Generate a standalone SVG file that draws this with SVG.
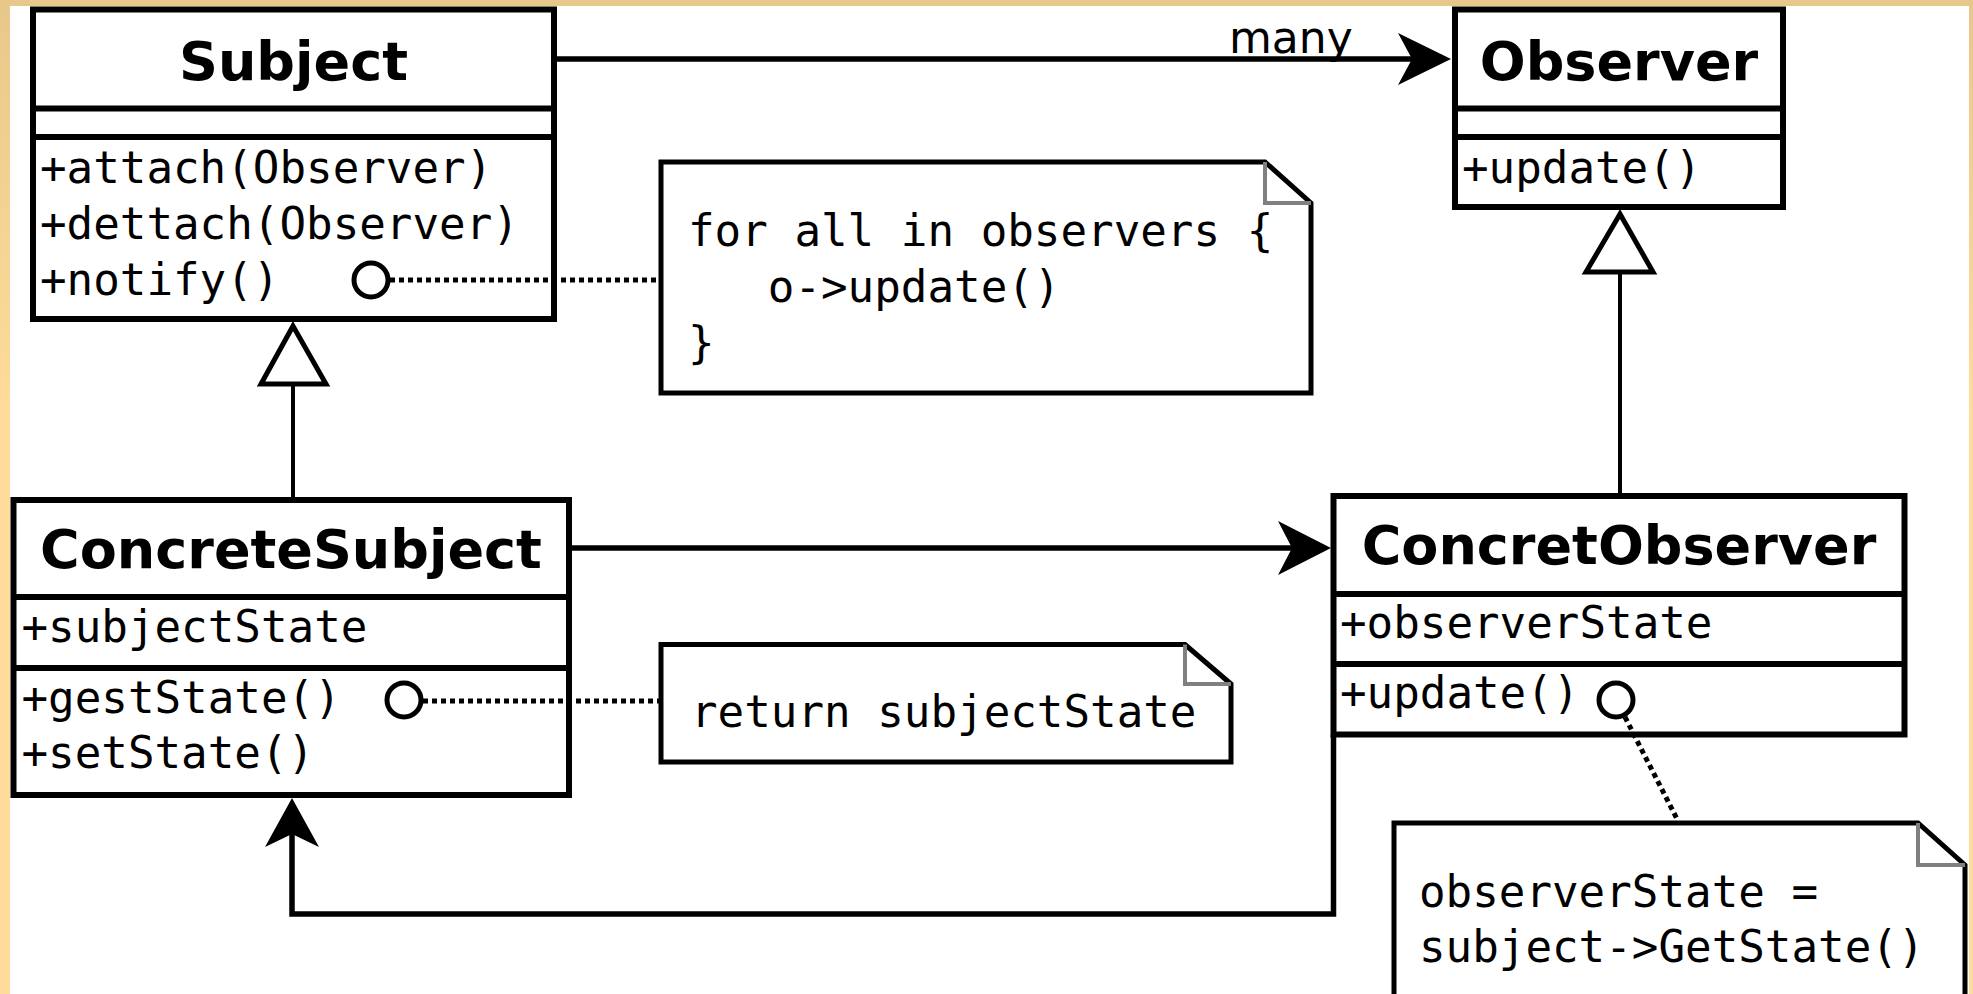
<svg xmlns="http://www.w3.org/2000/svg" width="1973" height="994" viewBox="0 0 1973 994">
  <defs>
    <linearGradient id="frame" gradientUnits="userSpaceOnUse" x1="0" y1="0" x2="0" y2="420">
      <stop offset="0" stop-color="#E8C88A"/>
      <stop offset="1" stop-color="#FFDC9C"/>
    </linearGradient>
  </defs>
  <style>
    .box { fill: #ffffff; stroke: #000000; stroke-width: 6; }
    .div { stroke: #000000; stroke-width: 6; fill: none; }
    .title { font-family: "DejaVu Sans", "Liberation Sans", sans-serif; font-weight: bold; font-size: 54px; text-anchor: middle; fill: #000000; }
    .mono { font-family: "DejaVu Sans Mono", "Liberation Mono", monospace; font-size: 44.2px; fill: #000000; white-space: pre; }
    .label { font-family: "DejaVu Sans", "Liberation Sans", sans-serif; font-size: 44px; fill: #000000; }
    .note { fill: #ffffff; stroke: #000000; stroke-width: 5; stroke-linejoin: miter; }
    .fold { fill: none; stroke: #808080; stroke-width: 4; }
    .line { fill: none; stroke: #000000; stroke-width: 5.5; }
    .thin { fill: none; stroke: #000000; stroke-width: 4; }
    .dots { fill: none; stroke: #000000; stroke-width: 5; stroke-dasharray: 5 4; }
    .head { fill: #000000; stroke: none; }
    .tri { fill: #ffffff; stroke: #000000; stroke-width: 5; stroke-linejoin: miter; }
    .knob { fill: #ffffff; stroke: #000000; stroke-width: 5; }
  </style>

  <!-- frame and canvas -->
  <rect x="0" y="0" width="1973" height="994" fill="url(#frame)"/>
  <rect x="10" y="6" width="1959" height="988" fill="#ffffff"/>

  <!-- Subject -->
  <g id="subject">
    <rect class="box" x="33" y="9.5" width="521" height="309.5"/>
    <line class="div" x1="33" y1="108.5" x2="554" y2="108.5"/>
    <line class="div" x1="33" y1="137" x2="554" y2="137"/>
    <text class="title" x="293.5" y="80">Subject</text>
    <text class="mono" x="40" y="183">+attach(Observer)</text>
    <text class="mono" x="40" y="239">+dettach(Observer)</text>
    <text class="mono" x="40" y="295">+notify()</text>
  </g>

  <!-- Observer -->
  <g id="observer">
    <rect class="box" x="1455" y="9.5" width="328" height="197.5"/>
    <line class="div" x1="1455" y1="108.5" x2="1783" y2="108.5"/>
    <line class="div" x1="1455" y1="137" x2="1783" y2="137"/>
    <text class="title" x="1619" y="80">Observer</text>
    <text class="mono" x="1462" y="183">+update()</text>
  </g>

  <!-- ConcreteSubject -->
  <g id="concrete-subject">
    <rect class="box" x="13.5" y="500" width="555.5" height="295"/>
    <line class="div" x1="13.5" y1="597" x2="569" y2="597"/>
    <line class="div" x1="13.5" y1="668" x2="569" y2="668"/>
    <text class="title" x="291" y="568">ConcreteSubject</text>
    <text class="mono" x="21.5" y="642">+subjectState</text>
    <text class="mono" x="21.5" y="713">+gestState()</text>
    <text class="mono" x="21.5" y="768">+setState()</text>
  </g>

  <!-- ConcretObserver -->
  <g id="concret-observer">
    <rect class="box" x="1333.5" y="496" width="571" height="238.5"/>
    <line class="div" x1="1333.5" y1="594" x2="1904.5" y2="594"/>
    <line class="div" x1="1333.5" y1="664" x2="1904.5" y2="664"/>
    <text class="title" x="1619" y="564">ConcretObserver</text>
    <text class="mono" x="1340" y="638">+observerState</text>
    <text class="mono" x="1340" y="708">+update()</text>
  </g>

  <!-- note: notify body -->
  <g id="note-notify">
    <path class="note" d="M661,162 H1265 L1311,203 V393 H661 Z"/>
    <path class="fold" d="M1265,162 V203 H1311"/>
    <text class="mono" x="688" y="246">for all in observers {</text>
    <text class="mono" x="688" y="302">   o-&gt;update()</text>
    <text class="mono" x="688" y="358">}</text>
  </g>

  <!-- note: getState body -->
  <g id="note-getstate">
    <path class="note" d="M661,644.5 H1185 L1231,684 V762 H661 Z"/>
    <path class="fold" d="M1185,644.5 V684 H1231"/>
    <text class="mono" x="691" y="727">return subjectState</text>
  </g>

  <!-- note: update body -->
  <g id="note-update">
    <path class="note" d="M1394,823 H1918 L1965,865 V1005 H1394 Z"/>
    <path class="fold" d="M1918,823 V865 H1965"/>
    <text class="mono" x="1419" y="907">observerState =</text>
    <text class="mono" x="1419" y="962">subject-&gt;GetState()</text>
  </g>

  <!-- connectors, drawn over the boxes -->
  <g id="connectors">
    <!-- Subject -> Observer (many) -->
    <line class="line" x1="557" y1="59" x2="1412" y2="59"/>
    <polygon class="head" points="1451,59 1398,33 1412,59 1398,85"/>
    <text class="label" x="1229" y="53">many</text>

    <!-- ConcreteSubject -> ConcretObserver -->
    <line class="line" x1="572" y1="548" x2="1292" y2="548"/>
    <polygon class="head" points="1331,548 1278,521 1292,548 1278,575"/>

    <!-- ConcretObserver -> ConcreteSubject -->
    <path class="line" d="M1333.5,735 V914 H292 V834"/>
    <polygon class="head" points="292,798 319,847 292,834 265,847"/>

    <!-- generalizations -->
    <line class="thin" x1="293" y1="384" x2="293" y2="497"/>
    <polygon class="tri" points="293,326 261,384 326,384"/>
    <line class="thin" x1="1620" y1="272" x2="1620" y2="493"/>
    <polygon class="tri" points="1620,214 1586,272 1653,272"/>

    <!-- note anchors -->
    <line class="dots" x1="390" y1="280" x2="659" y2="280"/>
    <line class="dots" x1="423" y1="701" x2="659" y2="701"/>
    <line class="dots" x1="1625" y1="717" x2="1678" y2="821"/>
    <circle class="knob" cx="371" cy="280" r="17"/>
    <circle class="knob" cx="404" cy="700" r="17"/>
    <circle class="knob" cx="1616" cy="700" r="17"/>
  </g>
</svg>
